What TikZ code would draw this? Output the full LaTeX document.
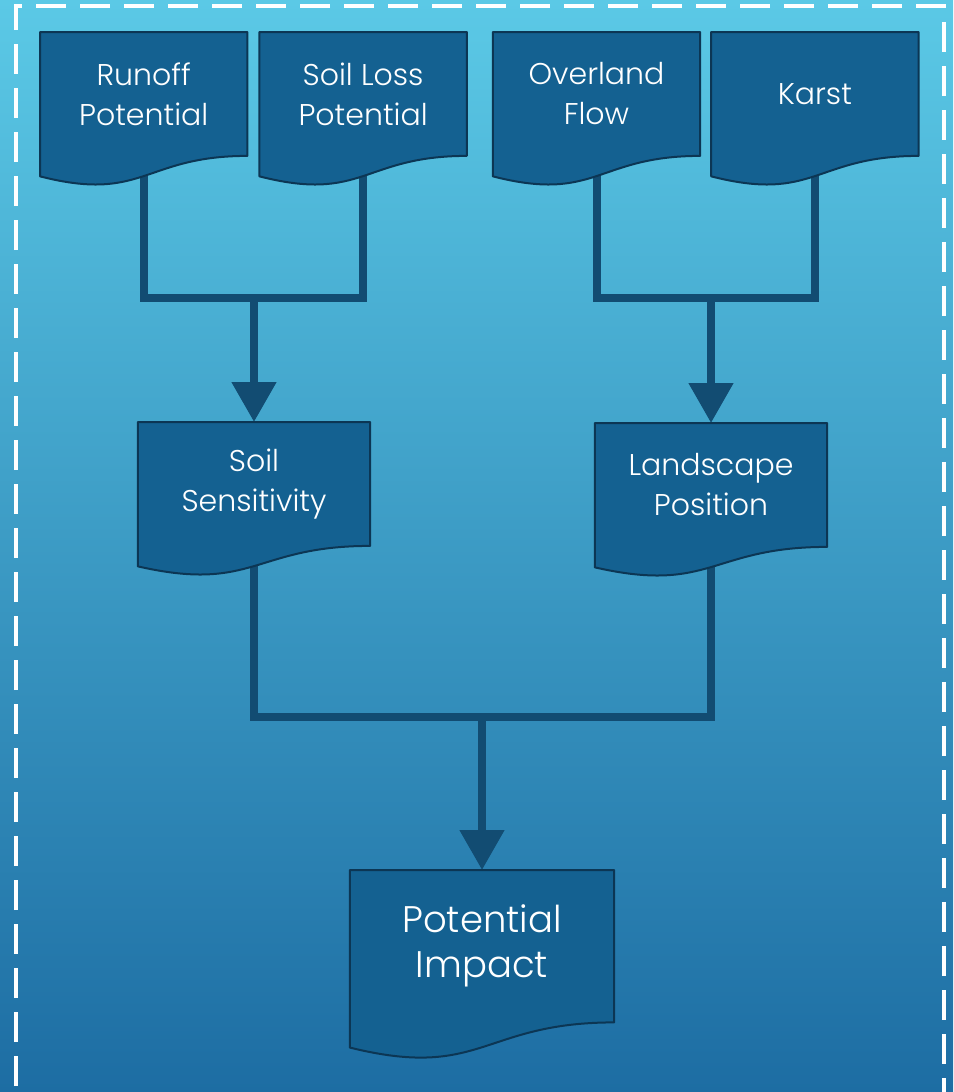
\documentclass[tikz,border=0pt]{standalone}
\usepackage{fontspec}
\setmainfont{Poppins}[UprightFont=* Light]
\usetikzlibrary{arrows.meta,positioning,calc,backgrounds}
\definecolor{SkyTop}{HTML}{5BC9E6}
\definecolor{SkyBottom}{HTML}{1D6DA3}
\definecolor{DocFill}{HTML}{146191}
\definecolor{DocEdge}{HTML}{0C3654}
\definecolor{Wire}{HTML}{124C72}
\pgfdeclarelayer{wires}
\pgfdeclarelayer{sheets}
\pgfsetlayers{background,wires,sheets,main}
% wavy document outline round a named node
\newcommand{\docsheet}[1]{%
  \path[sheet] (#1.north west) -- (#1.north east) -- (#1.south east)
    .. controls (#1.south) and ($(#1.south)!-0.38!(#1.north)$)
    .. ($(#1.south west)!-0.165!(#1.north west)$) -- cycle;}

\begin{document}
\begin{tikzpicture}[x=1pt,y=-1pt,
  doc/.style={minimum width=207pt,minimum height=123.5pt,inner sep=0pt,align=center,text=white,font=\fontsize{30}{40}\selectfont},
  sheet/.style={draw=DocEdge,fill=DocFill,line width=2pt,line join=round},
  wire/.style={draw=Wire,line width=8pt,line join=miter},
  arr/.style={wire,-{Triangle[length=40pt,width=43pt]}}
]
\useasboundingbox (0,0) rectangle (953,1092);
\begin{pgfonlayer}{background}
\fill[top color=SkyTop,bottom color=SkyBottom] (0,0) rectangle (953,1092);
\clip (0,0) rectangle (953,1092);
\draw[white,line width=4pt,dash pattern=on 30pt off 14pt] (16,1130) -- (16,6) -- (944,6) -- (944,1130);
\end{pgfonlayer}
\node[doc,anchor=north west] (runoff) at (40,32) {Runoff\\Potential};
\node[doc,right=12pt of runoff] (soilloss) {Soil Loss\\Potential};
\node[doc,right=26pt of soilloss] (overland) {Overland\\Flow};
\node[doc,right=11pt of overland] (karst) {Karst};
\node[doc,minimum width=232pt,anchor=north] (sens) at (254,422) {Soil\\Sensitivity};
\node[doc,minimum width=232pt,anchor=north] (land) at (711,423) {Landscape\\Position};
\node[doc,minimum width=264pt,minimum height=152pt,anchor=north,font=\fontsize{37}{45}\selectfont] (impact) at (482,870) {Potential\\Impact};
\begin{pgfonlayer}{wires}
\coordinate (jl) at (sens.north |- 0,298);
\coordinate (jr) at (land.north |- 0,298);
\coordinate (jb) at (impact.north |- 0,717);
\draw[wire] (runoff.south) |- (jl) -| (soilloss.south);
\draw[arr] (jl) -- (sens.north);
\draw[wire] (overland.south) |- (jr) -| (karst.south);
\draw[arr] (jr) -- (land.north);
\draw[wire] (sens.south) |- (jb) -| (land.south);
\draw[arr] (jb) -- (impact.north);
\end{pgfonlayer}
\begin{pgfonlayer}{sheets}
\foreach \n in {runoff,soilloss,overland,karst,sens,land,impact} {\docsheet{\n}}
\end{pgfonlayer}
\end{tikzpicture}
\end{document}
